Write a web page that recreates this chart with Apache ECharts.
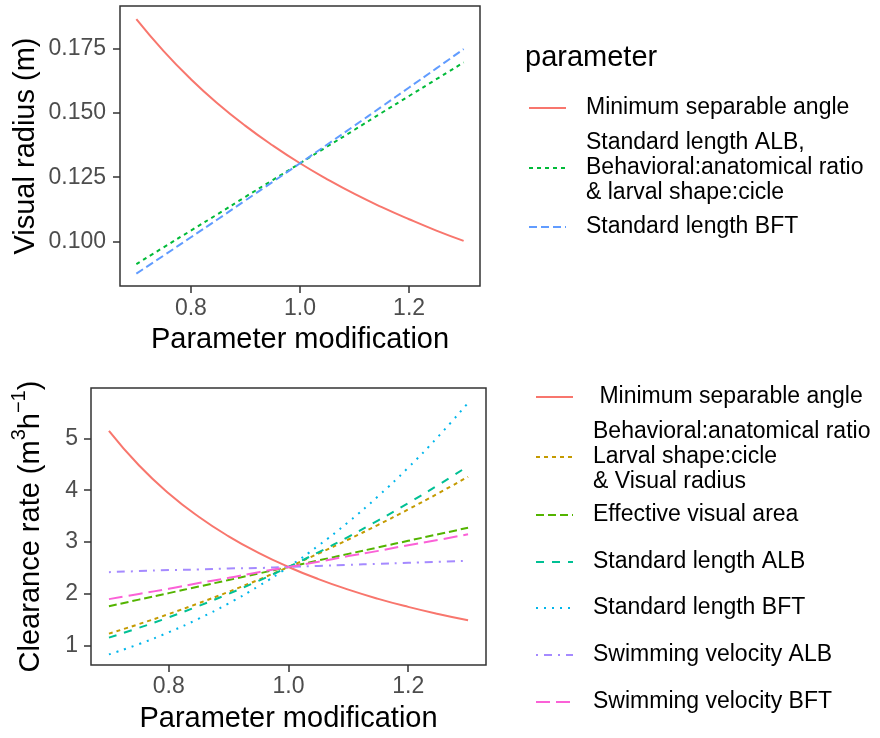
<!DOCTYPE html>
<html><head><meta charset="utf-8">
<script src="https://cdn.jsdelivr.net/npm/echarts@6/dist/echarts.min.js"></script>
<style>html,body{margin:0;padding:0;background:#fff}#c{width:880px;height:738px}</style>
</head><body><div id="c"></div>
<script>
// ---------- data ----------
const paramMod = [0.70,0.75,0.80,0.85,0.90,0.95,1.00,1.05,1.10,1.15,1.20,1.25,1.30];

// Top panel: Visual radius (m)
const vrMinAngle   = [0.1863,0.1739,0.1630,0.1534,0.1449,0.1373,0.1304,0.1242,0.1185,0.1134,0.1087,0.1043,0.1003];
const vrLengthALB  = [0.0913,0.0978,0.1043,0.1108,0.1174,0.1239,0.1304,0.1369,0.1434,0.1500,0.1565,0.1630,0.1695];
const vrLengthBFT  = [0.0876,0.0946,0.1017,0.1088,0.1160,0.1232,0.1304,0.1377,0.1450,0.1524,0.1598,0.1672,0.1747];

// Bottom panel: Clearance rate (m3 h-1)
const crMinAngle   = [5.143,4.480,3.938,3.488,3.111,2.792,2.520,2.286,2.083,1.905,1.750,1.613,1.491];
const crBehavioral = [1.235,1.418,1.613,1.821,2.041,2.274,2.520,2.778,3.049,3.333,3.629,3.938,4.259];
const crEffArea    = [1.764,1.890,2.016,2.142,2.268,2.394,2.520,2.646,2.772,2.898,3.024,3.150,3.276];
const crLengthALB  = [1.158,1.346,1.549,1.768,2.003,2.253,2.520,2.803,3.102,3.418,3.750,4.099,4.464];
const crLengthBFT  = [0.834,1.033,1.262,1.523,1.818,2.150,2.520,2.931,3.386,3.887,4.434,5.033,5.683];
const crSwimALB    = [2.42,2.44,2.46,2.47,2.49,2.50,2.52,2.54,2.56,2.58,2.60,2.62,2.64];
const crSwimBFT    = [1.90,2.00,2.10,2.21,2.31,2.42,2.52,2.62,2.73,2.83,2.94,3.04,3.15];

const xTicks = [0.8, 1.0, 1.2];
const yTicksTop = [0.100, 0.125, 0.150, 0.175];
const yTicksBottom = [1, 2, 3, 4, 5];

const topKeys = ['vr_msa','vr_slalb','vr_slbft'];
const topLabels = ['Minimum separable angle',
  'Standard length ALB,\nBehavioral:anatomical ratio\n& larval shape:cicle',
  'Standard length BFT'];
const botKeys = ['cr_msa','cr_beh','cr_eva','cr_slalb','cr_slbft','cr_svalb','cr_svbft'];
const botLabels = [' Minimum separable angle',
  'Behavioral:anatomical ratio\nLarval shape:cicle\n& Visual radius',
  'Effective visual area','Standard length ALB','Standard length BFT',
  'Swimming velocity ALB','Swimming velocity BFT'];

// ---------- build ----------
const FONT = "'Liberation Sans', Arial, sans-serif";
const labelMap = {};
topKeys.forEach((k,i)=>labelMap[k]=topLabels[i]);
botKeys.forEach((k,i)=>labelMap[k]=botLabels[i]);

function pairs(ys){ return paramMod.map((x,i)=>[x, ys[i]]); }
function line(name, ys, color, dash, idx){
  return {
    name, type:'line', xAxisIndex:idx, yAxisIndex:idx, data:pairs(ys),
    symbol:'none', smooth:true, silent:true,
    lineStyle:{color, width:2, type: dash, cap:'butt'},
    itemStyle:{color}
  };
}
const series = [
  line('vr_msa',   vrMinAngle,  '#F8766D', 'solid', 0),
  line('vr_slalb', vrLengthALB, '#00BA38', [4,4], 0),
  line('vr_slbft', vrLengthBFT, '#619CFF', [8,4], 0),
  line('cr_msa',   crMinAngle,  '#F8766D', 'solid', 1),
  line('cr_beh',   crBehavioral,'#C49A00', [4,4], 1),
  line('cr_eva',   crEffArea,   '#53B400', [8,4], 1),
  line('cr_slalb', crLengthALB, '#00C094', [8,8], 1),
  line('cr_slbft', crLengthBFT, '#00B6EB', [2,6], 1),
  line('cr_svalb', crSwimALB,   '#A58AFF', [2,6,8,6], 1),
  line('cr_svbft', crSwimBFT,   '#FB61D7', [14,6], 1)
];

function xAxis(idx, gap, margin){
  return {
    type:'value', gridIndex:idx, min:0.67, max:1.33,
    name:'Parameter modification', nameLocation:'middle', nameGap:gap,
    nameTextStyle:{fontFamily:FONT, fontSize:29, color:'#000'},
    axisLine:{show:false}, splitLine:{show:false},
    axisTick:{show:true, length:7, customValues:xTicks, lineStyle:{color:'#333', width:1.5}},
    axisLabel:{customValues:xTicks, margin, fontFamily:FONT, fontSize:23, color:'#4D4D4D',
      formatter:v=>Number(v).toFixed(1)}
  };
}
function yAxis(idx, min, max, ticks, fmt, name, gap, margin){
  return {
    type:'value', gridIndex:idx, min, max,
    name, nameLocation:'middle', nameGap:gap,
    nameTextStyle:{fontFamily:FONT, fontSize:29, color:'#000'},
    axisLine:{show:false}, splitLine:{show:false},
    axisTick:{show:true, length:7, customValues:ticks, lineStyle:{color:'#333', width:1.5}},
    axisLabel:{customValues:ticks, margin, fontFamily:FONT, fontSize:23, color:'#4D4D4D', formatter:fmt}
  };
}

function legendItem(key, left, centerY, lines){
  return {
    data:[key], orient:'vertical', left, top: centerY - lines*25/2, padding:0,
    itemWidth:37, itemHeight:14, selectedMode:false,
    lineStyle:{width:2},
    itemStyle:{opacity:0},
    textStyle:{fontFamily:FONT, fontSize:23, lineHeight:25, color:'#000', padding:[0,0,0,15]},
    formatter:n=>labelMap[n]
  };
}

const legends = [
  legendItem('vr_msa', 528, 108, 1),
  legendItem('vr_slalb', 528, 168, 3),
  legendItem('vr_slbft', 528, 227, 1),
  legendItem('cr_msa', 535, 397, 1),
  legendItem('cr_beh', 535, 457, 3),
  legendItem('cr_eva', 535, 515, 1),
  legendItem('cr_slalb', 535, 562, 1),
  legendItem('cr_slbft', 535, 608, 1),
  legendItem('cr_svalb', 535, 655, 1),
  legendItem('cr_svbft', 535, 702, 1)
];

const chart = echarts.init(document.getElementById('c'), null, {renderer:'canvas'});
chart.setOption({
  animation:false,
  backgroundColor:'#fff',
  title:{text:'parameter', left:525, top:42, padding:0,
    textStyle:{fontFamily:FONT, fontSize:29, fontWeight:'normal', color:'#000', lineHeight:32}},
  grid:[
    {left:120, top:6, width:360, height:280, show:true, borderColor:'#333', borderWidth:1.5, backgroundColor:'transparent'},
    {left:91, top:388, width:395, height:277, show:true, borderColor:'#333', borderWidth:1.5, backgroundColor:'transparent'}
  ],
  xAxis:[ xAxis(0, 39, 11), xAxis(1, 39, 10) ],
  yAxis:[
    yAxis(0, 0.0828, 0.1914, yTicksTop, v=>Number(v).toFixed(3), 'Visual radius (m)', 80, 14),
    yAxis(1, 0.63, 5.97, yTicksBottom, v=>String(Math.round(v)),
      '{n|Clearance rate (m}{s|3}{n|h}{s|−1}{n|)}', 46, 13)
  ],
  legend: legends,
  series
});
// rich text styles for the bottom y-axis name
chart.setOption({yAxis:[{},{nameTextStyle:{rich:{
  n:{fontFamily:FONT, fontSize:29, color:'#000', lineHeight:36, verticalAlign:'bottom'},
  s:{fontFamily:FONT, fontSize:20, color:'#000', lineHeight:20, verticalAlign:'top'}
}}}]});
</script>
</body></html>
